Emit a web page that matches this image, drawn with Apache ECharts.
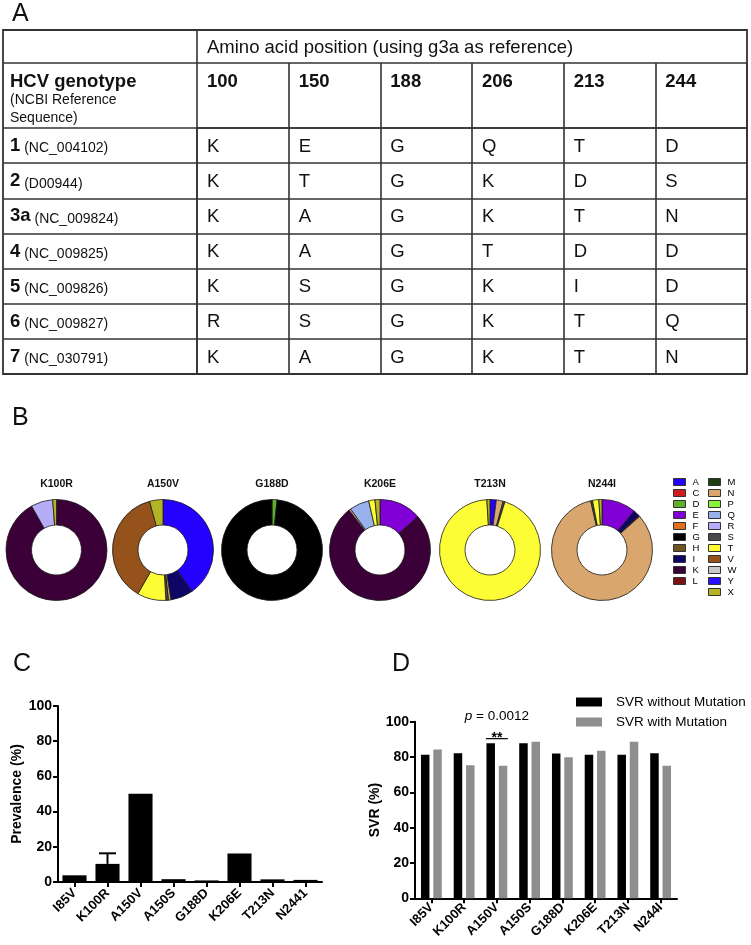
<!DOCTYPE html>
<html><head><meta charset="utf-8">
<script src="https://cdn.jsdelivr.net/npm/echarts@6/dist/echarts.min.js"></script>
<style>html,body{margin:0;padding:0;background:#fff}#c{width:751px;height:945px}</style>
</head><body><div id="c"></div>
<script>
// ---------- Panel A: table data ----------
const positions = ['100', '150', '188', '206', '213', '244'];
const genotypes = ['1', '2', '3a', '4', '5', '6', '7'];
const refSeqs = ['NC_004102', 'D00944', 'NC_009824', 'NC_009825', 'NC_009826', 'NC_009827', 'NC_030791'];
const aa100 = ['K', 'K', 'K', 'K', 'K', 'R', 'K'];
const aa150 = ['E', 'T', 'A', 'A', 'S', 'S', 'A'];
const aa188 = ['G', 'G', 'G', 'G', 'G', 'G', 'G'];
const aa206 = ['Q', 'K', 'K', 'T', 'K', 'K', 'K'];
const aa213 = ['T', 'D', 'T', 'D', 'I', 'T', 'T'];
const aa244 = ['D', 'S', 'N', 'D', 'D', 'Q', 'N'];

// ---------- Panel B: donut data ----------
const aminoAcids = ['A','C','D','E','F','G','H','I','K','L','M','N','P','Q','R','S','T','V','W','Y','X'];
const aaColors = ['#2400ff','#d01c1c','#5fae2a','#8000d6','#e0701e','#000000','#6e5420','#0e0666','#3c0038','#7a1212',
                  '#1f3d10','#d9a76e','#88f53a','#99b2ee','#b6adf7','#4a4a4a','#fdfd35','#95521a','#c9c9c9','#2a10ff','#b3b425'];
const mutations = ['K100R', 'A150V', 'G188D', 'K206E', 'T213N', 'N244I'];
const k100rAA = ['K', 'R', 'X'];
const k100rPct = [91.8, 7.0, 1.2];
const a150vAA = ['A', 'I', 'N', 'S', 'T', 'V', 'X'];
const a150vPct = [40.3, 7.2, 0.8, 0.8, 9.2, 37.4, 4.3];
const g188dAA = ['D', 'G'];
const g188dPct = [1.6, 98.4];
const k206eAA = ['E', 'K', 'N', 'Q', 'T', 'X'];
const k206ePct = [13.5, 76.0, 0.6, 6.3, 2.0, 1.6];
const t213nAA = ['A', 'N', 'S', 'T', 'X'];
const t213nPct = [2.0, 2.2, 0.6, 94.2, 1.0];
const n244iAA = ['E', 'I', 'K', 'N', 'S', 'T', 'X'];
const n244iPct = [11.0, 2.0, 0.4, 83.0, 0.6, 2.0, 1.0];

// ---------- Panel C ----------
const prevLabels = ['I85V', 'K100R', 'A150V', 'A150S', 'G188D', 'K206E', 'T213N', 'N2441'];
const prevalence = [3.8, 10.3, 50.2, 1.6, 0.9, 16.2, 1.5, 1.2];
const prevErrUpper = [null, 16.3, null, null, null, null, null, null];

// ---------- Panel D ----------
const svrLabels = ['I85V', 'K100R', 'A150V', 'A150S', 'G188D', 'K206E', 'T213N', 'N244I'];
const svrWithout = [81.3, 82.2, 87.8, 87.8, 82.0, 81.3, 81.3, 82.2];
const svrWith = [84.2, 75.4, 75.0, 88.6, 79.8, 83.6, 88.6, 75.0];
const svrSeriesNames = ['SVR without Mutation', 'SVR with Mutation'];
const sigCategory = 'A150V';
const sigText = '**';
const pText = '0.0012';

// ---------- layout ----------
const FONT = '"Liberation Sans", Arial, Helvetica, sans-serif';
const INK = '#111';
const LINE = '#333';
const T = { left: 3, right: 747, top: 30, head1: 63, head2: 128, bottom: 374, col1: 197 };
const cellW = (T.right - T.col1) / positions.length;
const BIG = 18.5, SMALL = 14;

const colorOf = a => aaColors[aminoAcids.indexOf(a)];
const donutX = [56.5, 163, 272, 380, 490, 602];
const donutY = 550;

const chart = echarts.init(document.getElementById('c'), null, { renderer: 'canvas', width: 751, height: 945 });

function donut(k, aa, pct) {
  return {
    type: 'pie', name: mutations[k], center: [donutX[k], donutY], radius: [25, 50.5],
    startAngle: 90, clockwise: true, silent: true, animation: false,
    label: { show: false }, labelLine: { show: false }, emphasis: { disabled: true },
    itemStyle: { borderColor: '#1a1a1a', borderWidth: 0.8 },
    data: aa.map((a, i) => ({ name: a, value: pct[i], itemStyle: { color: colorOf(a) } }))
  };
}

const aaColumns = [aa100, aa150, aa188, aa206, aa213, aa244];
const tableCells = [];
aaColumns.forEach((col, j) => col.forEach((aa, i) => tableCells.push({ value: [j, i], name: aa })));

const axisLineStyle = { color: '#000', width: 2 };
function plotYAxis(gridIndex, name, nameGap) {
  return {
    gridIndex, type: 'value', min: 0, max: 100, interval: 20,
    axisLine: { show: true, lineStyle: axisLineStyle },
    axisTick: { show: true, length: 5, lineStyle: axisLineStyle },
    axisLabel: { margin: 6, fontSize: 14, fontWeight: 'bold', color: '#000', fontFamily: FONT },
    splitLine: { show: false },
    name, nameLocation: 'middle', nameRotate: 90, nameGap,
    nameTextStyle: { fontSize: 14, fontWeight: 'bold', color: '#000', fontFamily: FONT }
  };
}
function plotXAxis(gridIndex, data, margin) {
  return {
    gridIndex, type: 'category', data,
    axisLine: { show: true, lineStyle: axisLineStyle },
    axisTick: { show: true, alignWithLabel: true, length: 5, interval: 0, lineStyle: axisLineStyle },
    axisLabel: { interval: 0, rotate: 45, margin, fontSize: 13, fontWeight: 'bold', color: '#000', fontFamily: FONT },
    splitLine: { show: false }
  };
}

const legendBase = {
  orient: 'vertical', icon: 'rect', selectedMode: false, padding: 0,
  itemWidth: 12, itemHeight: 7, itemGap: 0,
  itemStyle: { borderColor: '#333', borderWidth: 1 },
  textStyle: { fontSize: 9.5, lineHeight: 11, color: '#000', fontFamily: FONT, padding: [0, 0, 0, 2] }
};

const staticGraphic = [
  { id: 'pA', type: 'text', x: 12, y: 14, style: { text: 'A', fontSize: 25, fontFamily: FONT, fill: INK, verticalAlign: 'middle' } },
  { id: 'pB', type: 'text', x: 12, y: 418, style: { text: 'B', fontSize: 25, fontFamily: FONT, fill: INK, verticalAlign: 'middle' } },
  { id: 'pC', type: 'text', x: 13, y: 664, style: { text: 'C', fontSize: 25, fontFamily: FONT, fill: INK, verticalAlign: 'middle' } },
  { id: 'pD', type: 'text', x: 392, y: 664, style: { text: 'D', fontSize: 25, fontFamily: FONT, fill: INK, verticalAlign: 'middle' } },
  { id: 'tFrame', type: 'rect', shape: { x: T.left, y: T.top, width: T.right - T.left, height: T.bottom - T.top },
    style: { fill: 'none', stroke: LINE, lineWidth: 1.8 } },
  { id: 'tH1', type: 'line', shape: { x1: T.left, y1: T.head1, x2: T.right, y2: T.head1 }, style: { stroke: LINE, lineWidth: 1.6 } },
  { id: 'tV1', type: 'line', shape: { x1: T.col1, y1: T.top, x2: T.col1, y2: T.head1 }, style: { stroke: LINE, lineWidth: 1.6 } },
  { id: 'tHead', type: 'text', x: T.col1 + 10, y: (T.top + T.head1) / 2 + 1,
    style: { text: 'Amino acid position (using g3a as reference)', fontSize: BIG, fontFamily: FONT, fill: INK, verticalAlign: 'middle' } },
  { id: 'tHCV', type: 'text', x: 10, y: 81.5,
    style: { text: 'HCV genotype', fontSize: BIG, fontWeight: 'bold', fontFamily: FONT, fill: INK, verticalAlign: 'middle' } },
  { id: 'tNCBI1', type: 'text', x: 10, y: 100,
    style: { text: '(NCBI Reference', fontSize: SMALL, fontFamily: FONT, fill: INK, verticalAlign: 'middle' } },
  { id: 'tNCBI2', type: 'text', x: 10, y: 118,
    style: { text: 'Sequence)', fontSize: SMALL, fontFamily: FONT, fill: INK, verticalAlign: 'middle' } }
].concat(mutations.map((m, k) => ({
  id: 'dt' + k, type: 'text', x: donutX[k], y: 484,
  style: { text: m, fontSize: 10.5, fontWeight: 'bold', fontFamily: FONT, fill: INK, align: 'center', verticalAlign: 'middle' }
})));

const option = {
  backgroundColor: '#fff',
  animation: false,
  grid: [
    { left: T.col1, top: T.head2, width: T.right - T.col1, height: T.bottom - T.head2, show: false, outerBoundsMode: 'none', containLabel: false },
    { left: 58, top: 706, width: 264, height: 176, outerBoundsMode: 'none', containLabel: false },
    { left: 415, top: 721.7, width: 262, height: 176.6, outerBoundsMode: 'none', containLabel: false }
  ],
  xAxis: [
    {
      gridIndex: 0, type: 'category', data: positions, position: 'top', boundaryGap: true,
      axisLine: { show: true, lineStyle: { color: LINE, width: 1.6 } },
      axisTick: { show: true, inside: false, alignWithLabel: false, interval: 0, length: T.head2 - T.head1, lineStyle: { color: LINE, width: 1.6 } },
      axisLabel: {
        show: true, interval: 0, margin: T.head2 - 81.5, align: 'center', verticalAlign: 'middle',
        formatter: v => '{n|' + v + '}',
        rich: { n: { width: cellW - 20, align: 'left', fontSize: BIG, fontWeight: 'bold', color: INK, fontFamily: FONT } }
      },
      splitLine: { show: true, interval: 0, lineStyle: { color: LINE, width: 1.6 } }
    },
    plotXAxis(1, prevLabels, 9),
    plotXAxis(2, svrLabels, 7)
  ],
  yAxis: [
    {
      gridIndex: 0, type: 'category', data: genotypes, inverse: true, boundaryGap: true,
      axisLine: { show: true, lineStyle: { color: LINE, width: 1.6 } },
      axisTick: { show: true, inside: false, alignWithLabel: false, interval: 0, length: T.col1 - T.left, lineStyle: { color: LINE, width: 1.6 } },
      axisLabel: {
        show: true, interval: 0, margin: T.col1 - 10, align: 'left', verticalAlign: 'middle',
        fontSize: SMALL, fontFamily: FONT, color: INK,
        formatter: (v, i) => '{b|' + v + '} {n|(' + refSeqs[i] + ')}',
        rich: {
          b: { fontSize: BIG, fontWeight: 'bold', color: INK, fontFamily: FONT, verticalAlign: 'bottom', lineHeight: 20 },
          n: { fontSize: SMALL, color: INK, fontFamily: FONT, verticalAlign: 'bottom', lineHeight: 18 }
        }
      },
      splitLine: { show: true, interval: 0, lineStyle: { color: LINE, width: 1.6 } }
    },
    plotYAxis(1, 'Prevalence (%)', 34),
    plotYAxis(2, 'SVR (%)', 33)
  ],
  legend: [
    Object.assign({}, legendBase, { data: aminoAcids.slice(0, 10), left: 673, top: 476.5 }),
    Object.assign({}, legendBase, { data: aminoAcids.slice(10), left: 708, top: 476.5 }),
    {
      data: svrSeriesNames, orient: 'vertical', icon: 'rect', selectedMode: false, padding: 0,
      left: 576, top: 694, itemWidth: 26, itemHeight: 9, itemGap: 4,
      textStyle: { fontSize: 13.5, lineHeight: 16, color: '#000', fontFamily: FONT, padding: [0, 0, 0, 9] }
    }
  ],
  series: [
    {
      type: 'pie', name: 'legend-source', center: [-200, -200], radius: [0, 1], silent: true,
      label: { show: false }, labelLine: { show: false }, emphasis: { disabled: true },
      itemStyle: { borderColor: '#333', borderWidth: 1 },
      data: aminoAcids.map(a => ({ name: a, value: 1, itemStyle: { color: colorOf(a) } }))
    },
    donut(0, k100rAA, k100rPct),
    donut(1, a150vAA, a150vPct),
    donut(2, g188dAA, g188dPct),
    donut(3, k206eAA, k206ePct),
    donut(4, t213nAA, t213nPct),
    donut(5, n244iAA, n244iPct),
    {
      type: 'custom', name: 'residues', xAxisIndex: 0, yAxisIndex: 0, silent: true, z: 10,
      data: tableCells,
      renderItem: (params, api) => {
        const p = api.coord([api.value(0), api.value(1)]);
        return {
          type: 'text', x: p[0] - cellW / 2 + 10, y: p[1] + 1,
          style: { text: tableCells[params.dataIndex].name, fill: INK, fontSize: BIG, fontFamily: FONT, verticalAlign: 'middle', align: 'left' }
        };
      }
    },
    {
      type: 'bar', name: 'Prevalence', xAxisIndex: 1, yAxisIndex: 1, data: prevalence,
      barCategoryGap: '27%', itemStyle: { color: '#000' }, silent: true
    },
    {
      type: 'custom', name: 'Prevalence error', xAxisIndex: 1, yAxisIndex: 1, silent: true, z: 5,
      encode: { x: 0, y: [1, 2] },
      data: prevErrUpper.map((u, i) => [i, prevalence[i], u]).filter(d => d[2] !== null),
      renderItem: (params, api) => {
        const lo = api.coord([api.value(0), api.value(1)]);
        const hi = api.coord([api.value(0), api.value(2)]);
        const half = 8.5;
        return {
          type: 'group', children: [
            { type: 'line', shape: { x1: lo[0], y1: lo[1], x2: hi[0], y2: hi[1] }, style: { stroke: '#000', lineWidth: 2 } },
            { type: 'line', shape: { x1: hi[0] - half, y1: hi[1], x2: hi[0] + half, y2: hi[1] }, style: { stroke: '#000', lineWidth: 2 } }
          ]
        };
      }
    },
    {
      type: 'bar', name: svrSeriesNames[0], xAxisIndex: 2, yAxisIndex: 2, data: svrWithout,
      barWidth: 8.5, barGap: '45%', itemStyle: { color: '#000' }, silent: true
    },
    {
      type: 'bar', name: svrSeriesNames[1], xAxisIndex: 2, yAxisIndex: 2, data: svrWith,
      barWidth: 8.5, barGap: '45%', itemStyle: { color: '#8e8e8e' }, silent: true
    }
  ],
  graphic: { elements: staticGraphic }
};

chart.setOption(option);

const finder = { xAxisIndex: 2, yAxisIndex: 2 };
const sigLine = chart.convertToPixel(finder, [sigCategory, 90.4]);
const sigStar = chart.convertToPixel(finder, [sigCategory, 92.2]);
const pPos = chart.convertToPixel(finder, [sigCategory, 103.3]);
chart.setOption({
  graphic: {
    elements: staticGraphic.concat([
      { id: 'sigLine', type: 'line', shape: { x1: sigLine[0] - 11, y1: sigLine[1], x2: sigLine[0] + 11, y2: sigLine[1] },
        style: { stroke: '#000', lineWidth: 1.2 } },
      { id: 'sigStar', type: 'text', x: sigStar[0], y: sigStar[1] + 3,
        style: { text: sigText, fontSize: 14, fontWeight: 'bold', fontFamily: FONT, fill: '#000', align: 'center', verticalAlign: 'middle' } },
      { id: 'pText', type: 'text', x: pPos[0], y: pPos[1],
        style: {
          text: '{i|p} = ' + pText, fontSize: 13.5, fontFamily: FONT, fill: '#000', align: 'center', verticalAlign: 'middle',
          rich: { i: { fontStyle: 'italic', fontSize: 13.5, fontFamily: FONT, fill: '#000' } }
        } }
    ])
  }
});
</script>
</body></html>
